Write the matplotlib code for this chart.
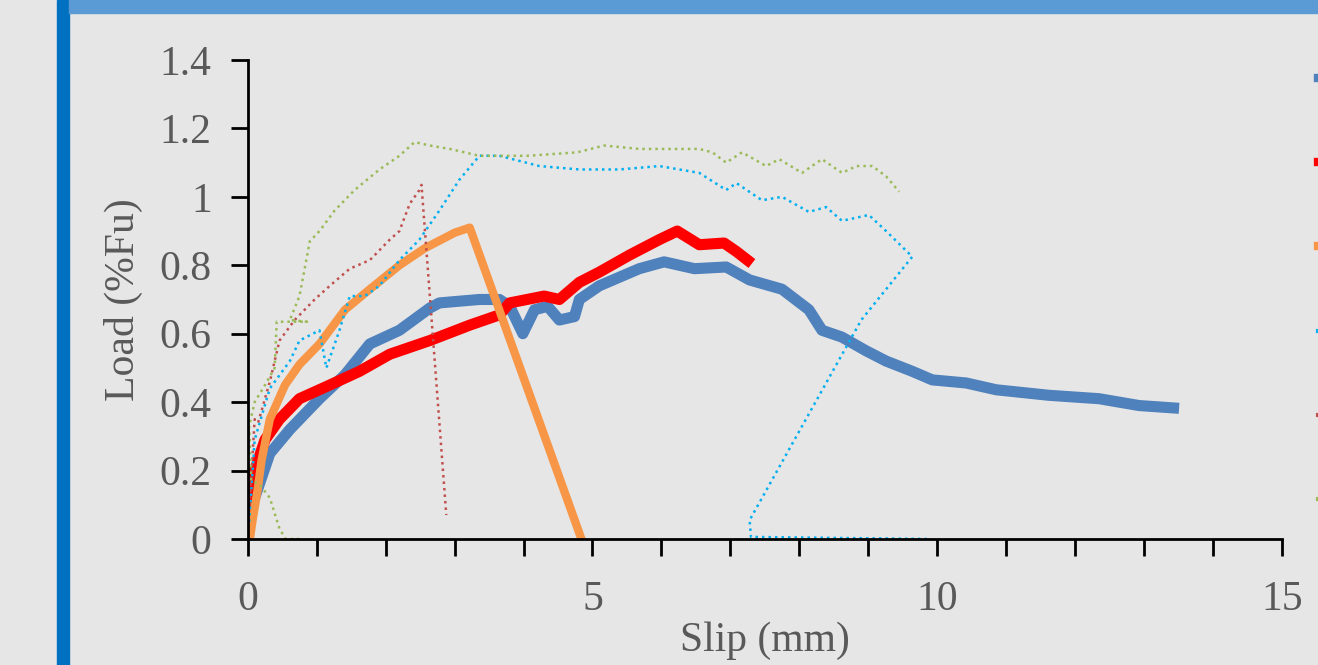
import matplotlib.pyplot as plt
from matplotlib.ticker import MultipleLocator, FuncFormatter
from matplotlib.patches import Rectangle

# series (slip mm, load %Fu)
s1_x = [0.03, 0.1, 0.32, 0.61, 1.04, 1.41, 1.77, 2.2, 2.64, 2.78, 3.36, 3.65, 3.8, 3.99, 4.16,
        4.35, 4.52, 4.74, 4.81, 5.1, 5.68, 6.04, 6.48, 6.94, 7.28, 7.75, 8.14, 8.33, 8.62,
        8.97, 9.26, 9.64, 9.93, 10.42, 10.86, 11.62, 12.35, 12.93, 13.43]
s1_y = [0.07, 0.12, 0.25, 0.32, 0.41, 0.48, 0.57, 0.61, 0.675, 0.69, 0.70, 0.70, 0.68, 0.60, 0.67,
        0.68, 0.64, 0.65, 0.70, 0.74, 0.79, 0.81, 0.79, 0.795, 0.757, 0.73, 0.67, 0.61, 0.59,
        0.55, 0.52, 0.49, 0.465, 0.456, 0.436, 0.42, 0.41, 0.39, 0.383]

s2_x = [0.03, 0.1, 0.25, 0.46, 0.75, 1.19, 1.62, 2.06, 2.64, 3.22, 3.65, 3.8, 4.3, 4.52,
        4.81, 5.1, 5.54, 5.97, 6.23, 6.55, 6.91, 7.09, 7.25]
s2_y = [0.11, 0.2, 0.29, 0.35, 0.41, 0.45, 0.49, 0.54, 0.58, 0.625, 0.655, 0.69, 0.71, 0.70,
        0.75, 0.78, 0.83, 0.875, 0.90, 0.86, 0.865, 0.84, 0.815]

s3_x = [0.03, 0.07, 0.14, 0.2, 0.32, 0.54, 0.75, 1.04, 1.41, 1.77, 2.2, 2.57, 3.0, 3.22, 4.84]
s3_y = [0.0, 0.055, 0.14, 0.23, 0.35, 0.45, 0.51, 0.57, 0.67, 0.73, 0.80, 0.85, 0.895, 0.91, 0.0]

s4_x = [0.02, 0.1, 0.32, 0.61, 0.75, 1.04, 1.14, 1.33, 1.48, 1.7, 1.91, 2.2, 2.49, 2.78, 3.07,
        3.36, 3.65, 4.23, 4.81, 5.39, 5.97, 6.55, 6.94, 7.09, 7.46, 7.75, 8.14, 8.39, 8.62,
        9.01, 9.26, 9.64, 8.9, 7.28, 7.3, 9.88]
s4_y = [0.05, 0.29, 0.44, 0.52, 0.58, 0.61, 0.50, 0.61, 0.71, 0.71, 0.74, 0.815, 0.875, 0.96, 1.05,
        1.12, 1.12, 1.09, 1.08, 1.08, 1.09, 1.07, 1.02, 1.04, 0.99, 1.0, 0.956, 0.97, 0.93,
        0.947, 0.90, 0.825, 0.64, 0.055, 0.006, 0.0]

s5_x = [0.02, 0.1, 0.15, 0.32, 0.46, 0.68, 0.97, 1.19, 1.48, 1.77, 2.06, 2.2, 2.35, 2.49, 2.52, 2.88]
s5_y = [0.08, 0.35, 0.34, 0.46, 0.58, 0.64, 0.70, 0.74, 0.79, 0.815, 0.875, 0.90, 0.98, 1.02, 1.035, 0.07]

s6_x = [0.75, 0.55, 0.46, 0.32, 0.17, 0.05, 0.02, 0.1, 0.25, 0.39, 0.42, 0.86, 0.61, 0.75, 0.9,
        1.04, 1.26, 1.55, 1.91, 2.2, 2.42, 2.64, 2.93, 3.36, 4.06, 4.78, 5.17, 5.68, 6.55,
        6.74, 6.94, 7.17, 7.52, 7.71, 8.04, 8.33, 8.62, 8.83, 9.06, 9.26, 9.45]
s6_y = [0.0, 0.0, 0.03, 0.12, 0.16, 0.17, 0.33, 0.40, 0.45, 0.5, 0.635, 0.635, 0.64, 0.71, 0.87,
        0.9, 0.96, 1.02, 1.08, 1.12, 1.16, 1.15, 1.14, 1.12, 1.12, 1.13, 1.15, 1.14, 1.14,
        1.13, 1.10, 1.13, 1.09, 1.11, 1.07, 1.11, 1.07, 1.09, 1.09, 1.06, 1.015]

grey = "#595959"
bg = "#E7E6E6"
plt.rcParams["font.family"] = ["Liberation Serif", "DejaVu Serif"]

fig = plt.figure(figsize=(13.18, 6.65), dpi=100, facecolor=bg)
ax = fig.add_axes([0.188, 0.1895, 0.7845, 0.7203])
ax.set_facecolor(bg)

l1, = ax.plot(s1_x, s1_y, color="#4F81BD", lw=8, solid_joinstyle="round")
l2, = ax.plot(s2_x, s2_y, color="#FF0000", lw=8, solid_joinstyle="round")
l3, = ax.plot(s3_x, s3_y, color="#F79646", lw=6, solid_joinstyle="round")
l4, = ax.plot(s4_x, s4_y, color="#00B0F0", lw=1.8, ls=(0, (1, 1.6)))
l5, = ax.plot(s5_x, s5_y, color="#C0504D", lw=1.8, ls=(0, (1, 1.6)))
l6, = ax.plot(s6_x, s6_y, color="#9BBB59", lw=1.8, ls=(0, (1, 1.6)))

ax.set_xlim(0, 15)
ax.set_ylim(0, 1.4)
ax.xaxis.set_major_locator(MultipleLocator(5))
ax.xaxis.set_minor_locator(MultipleLocator(1))
ax.yaxis.set_major_locator(MultipleLocator(0.2))
ax.yaxis.set_major_formatter(FuncFormatter(lambda v, p: "0" if abs(v) < 1e-9 else f"{v:g}"))

for s in ["top", "right"]:
    ax.spines[s].set_visible(False)
for s in ["left", "bottom"]:
    ax.spines[s].set_linewidth(2)
    ax.spines[s].set_color("black")
ax.tick_params(which="both", direction="out", length=12, width=2, color="black",
               labelcolor=grey, labelsize=30)
ax.tick_params(axis="x", pad=18)
ax.tick_params(axis="y", pad=14)

ax.set_xlabel("Slip (mm)", color=grey, fontsize=30, labelpad=2)
ax.set_ylabel("Load (%Fu)", color=grey, fontsize=30, labelpad=12)

# legend: only the handle edges are visible in the reference, labels fall outside
leg = ax.legend([l1, l2, l3, l4, l5, l6], [""] * 6, loc="upper left",
                bbox_to_anchor=(1.035, 0.9835), frameon=False, borderpad=0, borderaxespad=0,
                labelspacing=2.12, handlelength=1.5, fontsize=20)
for h, w in zip(leg.legend_handles, [6, 6, 6, 3, 3, 3]):
    h.set_linestyle("-")
    h.set_linewidth(w)

# frame decorations
fig.add_artist(Rectangle((57 / 1318, 0), 12 / 1318, 1, transform=fig.transFigure,
                         color="#0070C0", zorder=5))
fig.add_artist(Rectangle((69 / 1318, 1 - 13 / 665), 1, 13 / 665, transform=fig.transFigure,
                         color="#5B9BD5", zorder=5))

fig.savefig("out.png", dpi=100, facecolor=bg)
